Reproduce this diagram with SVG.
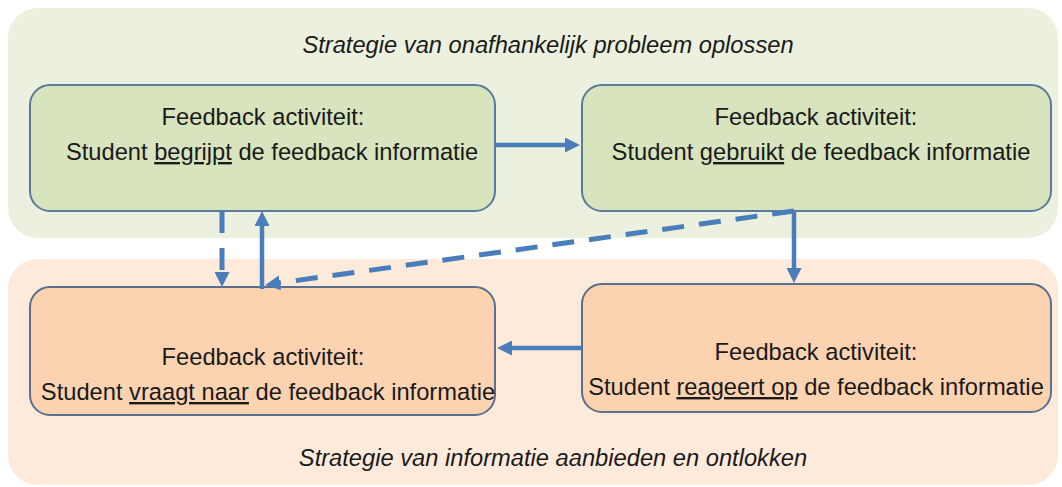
<svg xmlns="http://www.w3.org/2000/svg" width="1062" height="487" viewBox="0 0 1062 487">
  <defs>
    <style>
      .txt { font-family: "Liberation Sans", Arial, sans-serif; font-size: 23.7px; fill: #1a1a1a; text-anchor: middle; }
      .ttl { font-style: italic; }
      .u { text-decoration: underline; }
      .boxg { fill: #d7e4bd; stroke: #5a7b9c; stroke-width: 2; }
      .boxo { fill: #fcd3b1; stroke: #5a6f8c; stroke-width: 2; }
      .con { stroke: #4a7ebb; stroke-width: 4.5; fill: none; }
      .dash { stroke-width: 5; stroke-dasharray: 22 15; }
    </style>
    <marker id="ah" viewBox="0 0 15 15" markerUnits="userSpaceOnUse" markerWidth="15" markerHeight="15" refX="1" refY="7.5" orient="auto">
      <path d="M0,0 L15,7.5 L0,15 z" fill="#4a7ebb"/>
    </marker>
  </defs>

  <g id="bg-top">
    <rect x="8" y="8" width="1050" height="230" rx="30" fill="#ebf1de"/>
    <text class="txt ttl" x="548" y="53">Strategie van onafhankelijk probleem oplossen</text>
  </g>
  <g id="bg-bottom">
    <rect x="8" y="259" width="1050" height="226" rx="30" fill="#fdeadb"/>
    <text class="txt ttl" x="553" y="466">Strategie van informatie aanbieden en ontlokken</text>
  </g>

  <g id="node-begrijpt">
    <rect class="boxg" x="30" y="85" width="465" height="126" rx="20"/>
    <text class="txt" x="263" y="125">Feedback activiteit:</text>
    <text class="txt" x="272" y="160">Student <tspan class="u">begrijpt</tspan> de feedback informatie</text>
  </g>
  <g id="node-gebruikt">
    <rect class="boxg" x="582" y="85" width="469" height="126" rx="20"/>
    <text class="txt" x="816" y="125">Feedback activiteit:</text>
    <text class="txt" x="821" y="160">Student <tspan class="u">gebruikt</tspan> de feedback informatie</text>
  </g>
  <g id="node-vraagt">
    <rect class="boxo" x="30" y="287" width="465" height="128" rx="20"/>
    <text class="txt" x="263" y="365">Feedback activiteit:</text>
    <text class="txt" x="268" y="400">Student <tspan class="u">vraagt naar</tspan> de feedback informatie</text>
  </g>
  <g id="node-reageert">
    <rect class="boxo" x="582" y="284" width="469" height="128" rx="20"/>
    <text class="txt" x="816" y="360">Feedback activiteit:</text>
    <text class="txt" x="816" y="395">Student <tspan class="u">reageert op</tspan> de feedback informatie</text>
  </g>

  <g id="connectors">
    <line class="con" x1="496" y1="145" x2="566" y2="145" marker-end="url(#ah)"/>
    <line class="con" x1="794" y1="211" x2="794" y2="269" marker-end="url(#ah)"/>
    <line class="con" x1="582" y1="348" x2="511" y2="348" marker-end="url(#ah)"/>
    <line class="con dash" x1="222" y1="211" x2="222" y2="273" marker-end="url(#ah)"/>
    <line class="con" x1="262" y1="289" x2="262" y2="225" marker-end="url(#ah)"/>
    <line class="con dash" x1="794" y1="211" x2="279" y2="283" marker-end="url(#ah)"/>
  </g>
</svg>
